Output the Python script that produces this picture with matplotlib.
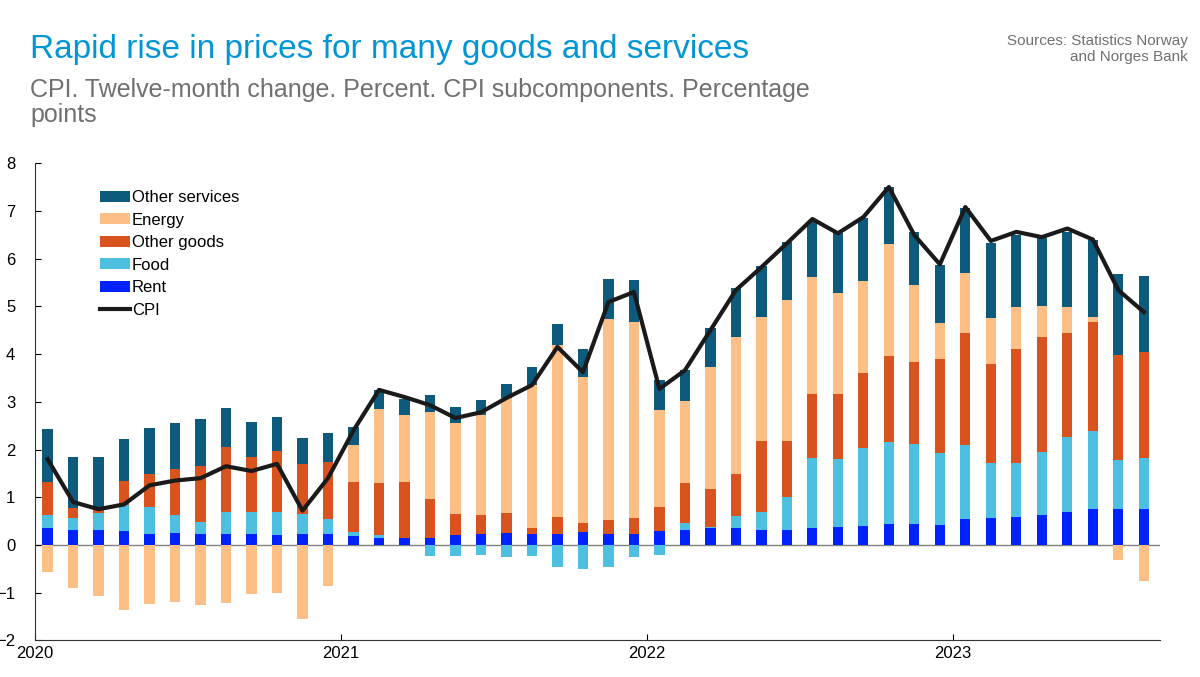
import matplotlib
matplotlib.use("Agg")
import matplotlib.pyplot as plt
import numpy as np

plt.rcParams['font.family'] = ['Liberation Sans', 'DejaVu Sans']

years = ["2020", "2021", "2022", "2023"]
rent = [0.35,0.32,0.32,0.30,0.23,0.25,0.22,0.24,0.24,0.20,0.22,0.22,
        0.18,0.15,0.15,0.15,0.21,0.22,0.25,0.23,0.23,0.27,0.23,0.23,
        0.30,0.31,0.36,0.36,0.31,0.31,0.36,0.38,0.40,0.44,0.44,0.42,
        0.54,0.57,0.59,0.62,0.70,0.75,0.75,0.75]
food = [0.27,0.25,0.34,0.54,0.56,0.37,0.26,0.46,0.46,0.50,0.43,0.33,
        0.10,0.05,0.0,-0.24,-0.23,-0.20,-0.25,-0.24,-0.47,-0.50,-0.47,-0.25,
        -0.20,0.15,0.02,0.25,0.38,0.69,1.46,1.42,1.63,1.72,1.67,1.51,
        1.55,1.15,1.13,1.33,1.57,1.63,1.03,1.07]
other_goods = [0.71,0.20,0.07,0.51,0.69,0.98,1.18,1.36,1.15,1.27,1.05,1.19,
               1.04,1.10,1.18,0.82,0.44,0.41,0.42,0.13,0.36,0.19,0.29,0.33,
               0.50,0.84,0.79,0.88,1.49,1.18,1.34,1.36,1.57,1.80,1.72,1.97,
               2.35,2.07,2.38,2.40,2.17,2.29,2.20,2.22]
energy = [-0.57,-0.90,-1.07,-1.37,-1.24,-1.20,-1.25,-1.22,-1.02,-1.00,-1.55,-0.85,
          0.78,1.55,1.39,1.82,1.90,2.09,2.41,2.99,3.60,3.06,4.21,4.11,
          2.03,1.72,2.56,2.87,2.59,2.95,2.45,2.12,1.93,2.34,1.61,0.75,
          1.26,0.96,0.89,0.65,0.55,0.11,-0.31,-0.75]
other_services = [1.09,1.08,1.12,0.87,0.97,0.95,0.99,0.81,0.73,0.71,0.55,0.61,
                  0.38,0.40,0.33,0.36,0.34,0.32,0.29,0.38,0.44,0.58,0.84,0.88,
                  0.62,0.64,0.81,1.02,1.07,1.22,1.17,1.25,1.32,1.20,1.12,1.21,
                  1.36,1.58,1.50,1.43,1.57,1.61,1.69,1.59]
cpi = [1.8,0.9,0.75,0.85,1.25,1.35,1.4,1.65,1.55,1.7,0.72,1.4,
       2.4,3.25,3.1,2.93,2.66,2.78,3.08,3.35,4.15,3.62,5.09,5.3,
       3.27,3.66,4.5,5.34,5.82,6.32,6.83,6.53,6.87,7.5,6.49,5.88,
       7.08,6.37,6.56,6.45,6.63,6.4,5.34,4.88]

colors = {"Other services": "#0d5a7c", "Energy": "#fdbf85", "Other goods": "#d9531e",
          "Food": "#4dbfe0", "Rent": "#0022ff"}

fig = plt.figure(figsize=(12, 6.77), dpi=100)
ax = fig.add_axes([0.029, 0.054, 0.938, 0.705])
x = np.arange(len(cpi))
w = 0.4
series = [("Rent", rent), ("Food", food), ("Other goods", other_goods),
          ("Energy", energy), ("Other services", other_services)]
pos = np.zeros(len(x)); neg = np.zeros(len(x))
handles = {}
for name, vals in series:
    v = np.array(vals)
    bottom = np.where(v >= 0, pos, neg)
    b = ax.bar(x, v, w, bottom=bottom, color=colors[name], label=name, zorder=2)
    handles[name] = b
    pos = pos + np.where(v >= 0, v, 0)
    neg = neg + np.where(v < 0, v, 0)
line, = ax.plot(x, cpi, color="#1a1a1a", lw=3, zorder=3, label="CPI")
ax.axhline(0, color="#808080", lw=1, zorder=1)

order = ["Other services", "Energy", "Other goods", "Food", "Rent"]
ax.legend([handles[n] for n in order] + [line], order + ["CPI"],
          loc="upper left", bbox_to_anchor=(0.045, 0.975), frameon=False,
          fontsize=12, handlelength=1.8, handleheight=0.6,
          labelspacing=0.45, handletextpad=0.1)

ax.set_ylim(-2, 8)
ax.set_xlim(-0.5, 43.65)
ax.set_yticks(range(-2, 9))
ax.set_xticks([12 * k - 0.5 for k in range(4)])
ax.set_xticklabels(years)
ax.tick_params(axis="y", direction="in", length=4, labelsize=12, pad=14)
ax.tick_params(axis="x", direction="in", length=4, labelsize=12, pad=4)
for s in ["top", "right"]:
    ax.spines[s].set_visible(False)
for s in ["left", "bottom"]:
    ax.spines[s].set_color("#333333")

fig.text(0.025, 0.915, "Rapid rise in prices for many goods and services",
         color="#0096d6", fontsize=24)
fig.text(0.025, 0.82, "CPI. Twelve-month change. Percent. CPI subcomponents. Percentage\npoints",
         color="#707070", fontsize=18, linespacing=1.05)
fig.text(0.99, 0.91, "Sources: Statistics Norway\nand Norges Bank", ha="right",
         color="#707070", fontsize=11, linespacing=1.2)

fig.savefig("out.png", dpi=100)
